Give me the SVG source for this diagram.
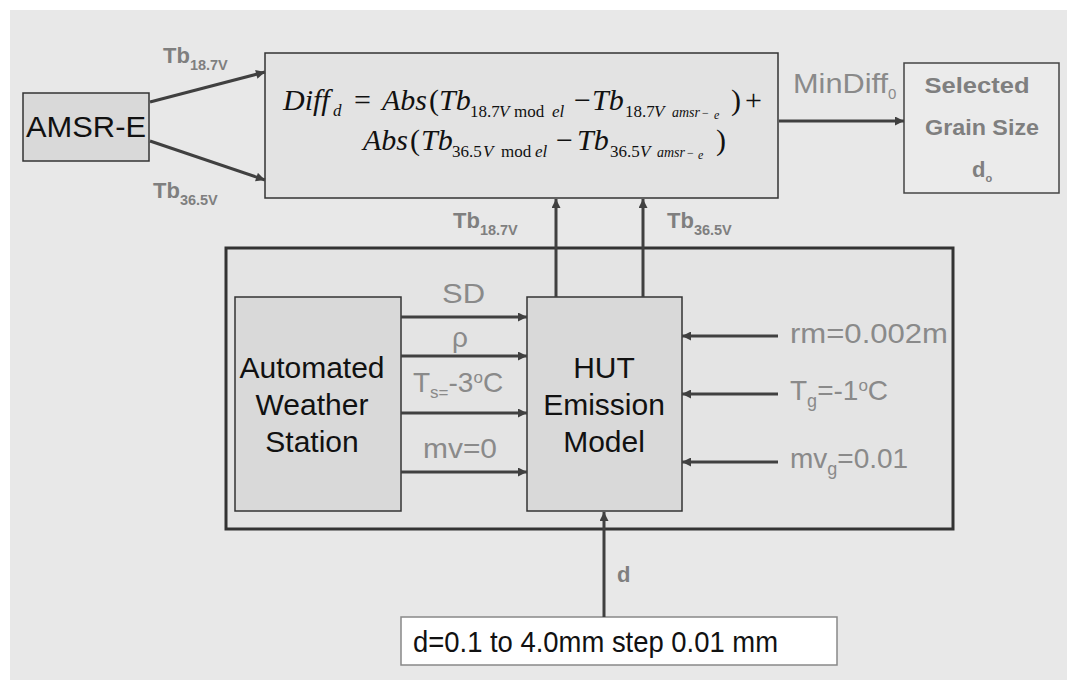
<svg xmlns="http://www.w3.org/2000/svg" width="1067" height="680" viewBox="0 0 1067 680">
<style>
.box{stroke:#333;stroke-width:1.5}
.node{font-family:"Liberation Sans",Arial,sans-serif;fill:#111;font-size:30px}
.lbl{font-family:"Liberation Sans",Arial,sans-serif;fill:#8a8a8a;font-size:28px}
.bl{font-family:"Liberation Sans",Arial,sans-serif;fill:#7f7f7f;font-weight:bold;font-size:22px}
.sub{font-size:14.5px}
.eq{font-family:"Liberation Serif","Times New Roman",serif;fill:#111;font-size:30px}
.i{font-style:italic}
.es{font-size:17px}
.et{font-size:14px}
.ee{font-size:12px}
.conn line{stroke:#404040;stroke-width:3;marker-end:url(#ah)}
</style>
<defs>
<marker id="ah" viewBox="0 0 10 10" refX="10" refY="5" markerWidth="11" markerHeight="9" markerUnits="userSpaceOnUse" orient="auto">
<path d="M0,0 L10,5 L0,10 z" fill="#404040"/>
</marker>
</defs>
<rect x="0" y="0" width="1067" height="680" fill="#ffffff"/>
<rect x="10" y="10" width="1057" height="670" fill="#e8e8e8"/>

<g id="frame">
<rect x="226" y="248" width="727" height="281" fill="#e4e4e4" stroke="#333" stroke-width="3"/>
</g>

<g id="amsr">
<rect class="box" x="23" y="93" width="126" height="68" fill="#d9d9d9"/>
<text class="node" x="86" y="137" text-anchor="middle" textLength="120" lengthAdjust="spacingAndGlyphs">AMSR-E</text>
</g>

<g id="formula">
<rect class="box" x="265" y="53" width="513" height="145" fill="#e3e3e3"/>
<text class="eq">
<tspan class="i" x="283" y="110">Diff</tspan><tspan class="i es" x="333" y="116">d</tspan>
<tspan x="354" y="110">=</tspan>
<tspan class="i" x="382" y="110">Abs</tspan><tspan x="429" y="110">(</tspan><tspan class="i" x="439" y="110">Tb</tspan>
<tspan class="es" x="470" y="117">18.7</tspan><tspan class="i es" x="499" y="117">V</tspan><tspan class="es" x="514" y="117">mod</tspan><tspan class="i es" x="552" y="117">el</tspan>
<tspan x="574" y="110">−</tspan><tspan class="i" x="592" y="110">Tb</tspan>
<tspan class="es" x="625" y="117">18.7</tspan><tspan class="i es" x="654" y="117">V</tspan><tspan class="i et" x="672" y="117">amsr</tspan><tspan class="ee" x="702" y="117">−</tspan><tspan class="i ee" x="714" y="119">e</tspan>
<tspan x="731" y="110">)</tspan><tspan x="745" y="110">+</tspan>
<tspan class="i" x="363" y="150">Abs</tspan><tspan x="410" y="150">(</tspan><tspan class="i" x="421" y="150">Tb</tspan>
<tspan class="es" x="452" y="157">36.5</tspan><tspan class="i es" x="483" y="157">V</tspan><tspan class="es" x="501" y="157">mod</tspan><tspan class="i es" x="535" y="157">el</tspan>
<tspan x="556" y="150">−</tspan><tspan class="i" x="577" y="150">Tb</tspan>
<tspan class="es" x="610" y="157">36.5</tspan><tspan class="i es" x="640" y="157">V</tspan><tspan class="i et" x="657" y="157">amsr</tspan><tspan class="ee" x="687" y="157">−</tspan><tspan class="i ee" x="698" y="159">e</tspan>
<tspan x="716" y="150">)</tspan>
</text>
</g>

<g id="selected">
<rect x="904" y="63" width="155" height="130" fill="#ebebeb" stroke="#444" stroke-width="1.5"/>
<text class="bl" x="977" y="93" text-anchor="middle" font-size="21" textLength="105" lengthAdjust="spacingAndGlyphs">Selected</text>
<text class="bl" x="982" y="135" text-anchor="middle" font-size="21" textLength="114" lengthAdjust="spacingAndGlyphs">Grain Size</text>
<text class="bl" x="972" y="177" font-size="21">d<tspan font-size="11" dy="5">o</tspan></text>
</g>

<g id="aws">
<rect class="box" x="235" y="297" width="166" height="214" fill="#d9d9d9"/>
<text class="node" x="312" y="378" text-anchor="middle">Automated</text>
<text class="node" x="312" y="415" text-anchor="middle">Weather</text>
<text class="node" x="312" y="452" text-anchor="middle">Station</text>
</g>

<g id="hut">
<rect class="box" x="527" y="297" width="155" height="214" fill="#d9d9d9"/>
<text class="node" x="604" y="378" text-anchor="middle">HUT</text>
<text class="node" x="604" y="415" text-anchor="middle">Emission</text>
<text class="node" x="604" y="452" text-anchor="middle">Model</text>
</g>

<g id="input">
<rect x="401" y="617" width="436" height="48" fill="#ffffff" stroke="#888" stroke-width="1.5"/>
<text class="node" x="413" y="652" font-size="26" textLength="365" lengthAdjust="spacingAndGlyphs">d=0.1 to 4.0mm step 0.01 mm</text>
</g>

<g class="conn" id="connectors">
<line x1="150" y1="102" x2="265" y2="72"/>
<line x1="150" y1="141" x2="265" y2="180"/>
<line x1="779" y1="121" x2="904" y2="121"/>
<line x1="556" y1="297" x2="556" y2="199"/>
<line x1="643" y1="297" x2="643" y2="199"/>
<line x1="401" y1="317" x2="527" y2="317"/>
<line x1="401" y1="356" x2="527" y2="356"/>
<line x1="401" y1="413" x2="527" y2="413"/>
<line x1="401" y1="472" x2="527" y2="472"/>
<line x1="778" y1="336" x2="682" y2="336"/>
<line x1="778" y1="394" x2="682" y2="394"/>
<line x1="778" y1="462" x2="682" y2="462"/>
<line x1="604" y1="617" x2="604" y2="512"/>
</g>

<g id="labels">
<text class="bl" x="163" y="63">Tb<tspan class="sub" dy="7">18.7V</tspan></text>
<text class="bl" x="153" y="198">Tb<tspan class="sub" dy="7">36.5V</tspan></text>
<text class="bl" x="453" y="228">Tb<tspan class="sub" dy="7">18.7V</tspan></text>
<text class="bl" x="667" y="228">Tb<tspan class="sub" dy="7">36.5V</tspan></text>
<text class="bl" x="617" y="582">d</text>
<text class="lbl" x="793" y="93" font-size="24"><tspan textLength="95" lengthAdjust="spacingAndGlyphs">MinDiff</tspan><tspan font-size="15" dy="6">0</tspan></text>
<text class="lbl" x="442" y="303" textLength="43" lengthAdjust="spacingAndGlyphs">SD</text>
<text class="lbl" x="452" y="347">ρ</text>
<text class="lbl" x="413" y="392">T<tspan font-size="17" dy="6">s=</tspan><tspan dy="-6">-3</tspan><tspan font-size="17" dy="-9">o</tspan><tspan dy="9">C</tspan></text>
<text class="lbl" x="423" y="458" textLength="74" lengthAdjust="spacingAndGlyphs">mv=0</text>
<text class="lbl" x="790" y="343" textLength="158" lengthAdjust="spacingAndGlyphs">rm=0.002m</text>
<text class="lbl" x="790" y="400">T<tspan font-size="18" dy="7">g</tspan><tspan dy="-7">=-1</tspan><tspan font-size="17" dy="-9">o</tspan><tspan dy="9">C</tspan></text>
<text class="lbl" x="790" y="468">mv<tspan font-size="18" dy="7">g</tspan><tspan dy="-7">=0.01</tspan></text>
</g>
</svg>
